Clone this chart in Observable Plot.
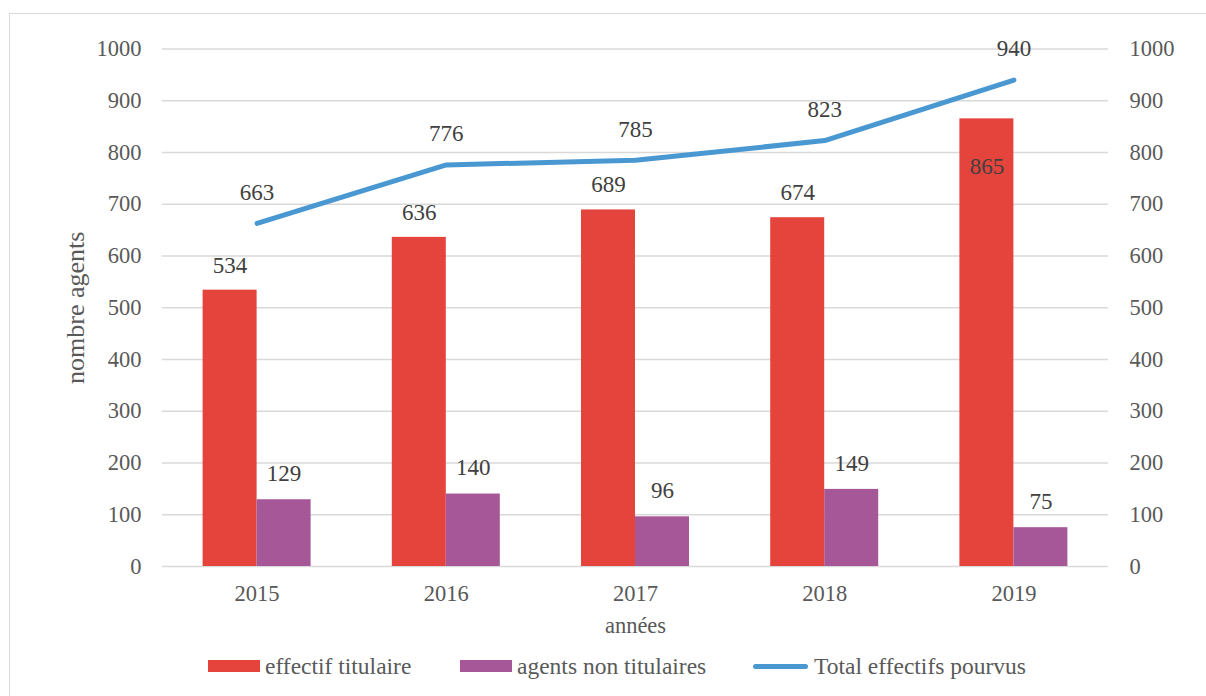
<!DOCTYPE html>
<html>
<head>
<meta charset="utf-8">
<script src="https://cdn.jsdelivr.net/npm/d3@7"></script>
<script src="https://cdn.jsdelivr.net/npm/@observablehq/plot@0.6"></script>
<style>
  html, body { margin: 0; padding: 0; background: #fff; }
  #wrap { position: relative; width: 1206px; height: 696px; overflow: hidden; font-family: "Liberation Serif", serif; }
  #border { position: absolute; left: 9px; top: 13px; width: 1220px; height: 720px; border: 1.3px solid #d9d9d9; box-sizing: border-box; }
  #chart { position: absolute; left: 0; top: 0; }
  #chart svg text { font-family: "Liberation Serif", serif !important; }
  .leg { position: absolute; top: 653px; display: flex; align-items: center; font-size: 23.5px; color: #595959; white-space: nowrap; height: 26px; }
  .sw { width: 52px; height: 12px; margin-right: 5px; }
  .ln { width: 55px; height: 5px; border-radius: 3px; margin-right: 6px; background: #4a98d2; }
</style>
</head>
<body>
<div id="wrap">
  <div id="border"></div>
  <div id="chart"></div>
</div>
<script>
const years = [2015, 2016, 2017, 2018, 2019];
const titulaires = [534, 636, 689, 674, 865];
const nonTitulaires = [129, 140, 96, 149, 75];
const totals = [663, 776, 785, 823, 940];
const yTicks = [0, 100, 200, 300, 400, 500, 600, 700, 800, 900, 1000];
const seriesNames = ["effectif titulaire", "agents non titulaires", "Total effectifs pourvus"];
const colors = ["#e5443d", "#a65798", "#4a98d2"];

const data = years.map((year, i) => ({year, tit: titulaires[i], non: nonTitulaires[i], total: totals[i]}));
const half = 0.2854;
const font = "Liberation Serif";
const inside = d => d.total - d.tit < 85;

const chart = Plot.plot({
  width: 1206,
  height: 696,
  marginLeft: 162,
  marginRight: 98,
  marginTop: 48.5,
  marginBottom: 130,
  style: {fontFamily: font, fontSize: "22.5px", color: "#595959", background: "transparent"},
  x: {type: "linear", domain: [2014.5, 2019.5]},
  y: {domain: [0, 1000]},
  marks: [
    Plot.gridY(yTicks, {stroke: "#d9d9d9", strokeOpacity: 1, strokeWidth: 1.3}),
    Plot.axisY(yTicks, {anchor: "left", tickSize: 0, tickPadding: 21, tickFormat: d => String(d), label: null, fill: "#595959"}),
    Plot.axisY(yTicks, {anchor: "right", tickSize: 0, tickPadding: 21, tickFormat: d => String(d), label: null, fill: "#595959"}),
    Plot.axisX(years, {anchor: "bottom", tickSize: 0, tickPadding: 19, tickFormat: d => String(d), label: null, fill: "#595959"}),
    Plot.rectY(data, {x1: d => d.year - half, x2: d => d.year, y1: 0, y2: "tit", fill: colors[0]}),
    Plot.rectY(data, {x1: d => d.year, x2: d => d.year + half, y1: 0, y2: "non", fill: colors[1]}),
    Plot.lineY(data, {x: "year", y: "total", stroke: colors[2], strokeWidth: 5, strokeLinecap: "round", strokeLinejoin: "round"}),
    Plot.text(data.filter(d => !inside(d)), {x: d => d.year - half / 2, y: "tit", text: d => String(d.tit), dy: -25, fill: "#404040", fontSize: 23}),
    Plot.text(data.filter(inside), {x: d => d.year - half / 2, y: "tit", text: d => String(d.tit), dy: 48, fill: "#404040", fontSize: 23}),
    Plot.text(data, {x: d => d.year + half / 2, y: "non", text: d => String(d.non), dy: -26, fill: "#404040", fontSize: 23}),
    Plot.text(data, {x: "year", y: "total", text: d => String(d.total), dy: -31, fill: "#404040", fontSize: 23}),
    Plot.text(["nombre agents"], {frameAnchor: "left", textAnchor: "middle", rotate: -90, dx: -87, text: d => d, fill: "#595959", fontSize: 26}),
    Plot.text(["années"], {frameAnchor: "bottom", textAnchor: "middle", dy: 66, text: d => d, fill: "#595959", fontSize: 22.5})
  ]
});
document.getElementById("chart").appendChild(chart);

const wrap = document.getElementById("wrap");
const legLefts = [208, 460, 753];
seriesNames.forEach((name, i) => {
  const item = document.createElement("div");
  item.className = "leg";
  item.style.left = legLefts[i] + "px";
  const sw = document.createElement("div");
  if (i < 2) { sw.className = "sw"; sw.style.background = colors[i]; }
  else { sw.className = "ln"; }
  const t = document.createElement("span");
  t.textContent = name;
  item.appendChild(sw);
  item.appendChild(t);
  wrap.appendChild(item);
});
</script>
</body>
</html>
